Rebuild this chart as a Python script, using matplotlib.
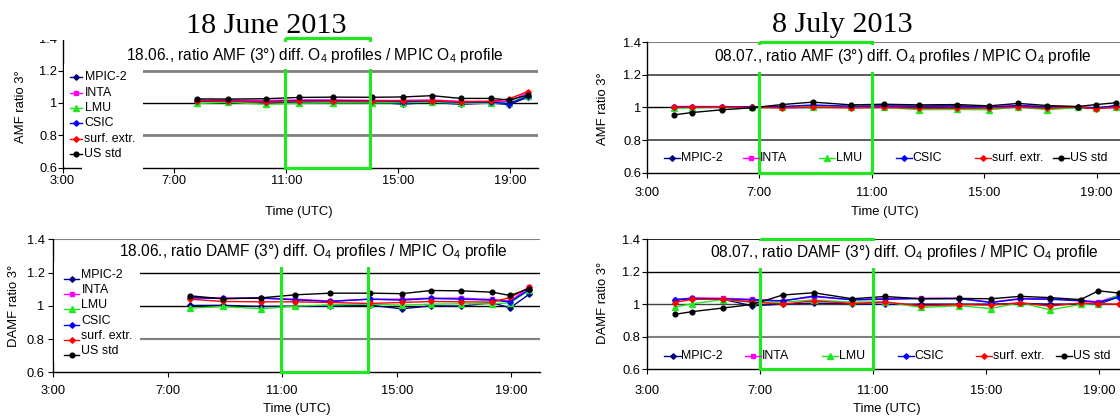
import matplotlib
matplotlib.use("Agg")
import matplotlib.pyplot as plt
from matplotlib.lines import Line2D
from matplotlib.patches import Rectangle

W, H = 1120, 420

plt.rcParams["font.family"] = ["Liberation Sans", "DejaVu Sans"]
plt.rcParams["mathtext.fontset"] = "custom"
plt.rcParams["mathtext.rm"] = "Liberation Sans"
plt.rcParams["mathtext.it"] = "Liberation Sans:italic"
plt.rcParams["mathtext.bf"] = "Liberation Sans:bold"

# ---------------------------------------------------------------- data
series_names = ["MPIC-2", "INTA", "LMU", "CSIC", "surf. extr.", "US std"]
series_colors = ["#000080", "#FF00FF", "#22E622", "#0000FF", "#FF0000", "#000000"]
series_markers = ["D", "s", "^", "D", "D", "o"]
series_msize = [2.8, 3.2, 3.8, 2.8, 2.8, 3.4]

# measurement times in decimal hours (UTC)
june_times = [7.80, 8.92, 10.28, 11.45, 12.68, 14.05, 15.17, 16.21, 17.24, 18.33, 18.96, 19.63]
july_times = [3.98, 4.60, 5.68, 6.73, 7.80, 8.90, 10.27, 11.42, 12.68, 14.04, 15.17, 16.21,
              17.25, 18.34, 18.97, 19.70]

# rows follow series_names
june_amf = [
    [1.010, 1.010, 1.005, 1.005, 1.008, 1.005, 0.993, 1.003, 0.992, 1.000, 0.990, 1.035],
    [1.018, 1.017, 1.015, 1.018, 1.018, 1.016, 1.015, 1.018, 1.010, 1.010, 1.010, 1.062],
    [0.997, 1.003, 0.992, 0.998, 1.000, 1.000, 1.002, 1.005, 0.998, 0.998, 1.000, 1.045],
    [1.012, 1.012, 1.008, 1.015, 1.015, 1.012, 1.008, 1.012, 1.003, 1.005, 0.995, 1.040],
    [1.014, 1.010, 1.006, 1.010, 1.010, 1.010, 1.015, 1.015, 1.006, 1.010, 1.025, 1.070],
    [1.025, 1.024, 1.026, 1.034, 1.036, 1.035, 1.037, 1.045, 1.028, 1.028, 1.018, 1.048],
]
june_damf = [
    [1.002, 1.003, 0.996, 0.998, 0.998, 1.004, 0.982, 1.000, 0.998, 1.018, 0.988, 1.070],
    [1.050, 1.046, 1.047, 1.040, 1.028, 1.040, 1.040, 1.046, 1.046, 1.038, 1.028, 1.112],
    [0.986, 0.996, 0.982, 0.998, 1.006, 1.010, 1.004, 1.010, 1.012, 1.012, 1.018, 1.094],
    [1.048, 1.044, 1.046, 1.036, 1.026, 1.040, 1.034, 1.044, 1.040, 1.034, 1.024, 1.098],
    [1.040, 1.026, 1.024, 1.024, 1.020, 1.014, 1.020, 1.026, 1.024, 1.022, 1.050, 1.112],
    [1.060, 1.042, 1.048, 1.066, 1.076, 1.076, 1.073, 1.092, 1.090, 1.082, 1.062, 1.104],
]
july_amf = [
    [1.003, 1.003, 1.003, 1.002, 1.000, 1.000, 1.003, 1.005, 1.006, 1.008, 1.000, 1.008, 1.003, 1.000, 0.995, 1.012],
    [1.006, 1.006, 1.006, 1.002, 1.003, 1.008, 1.005, 1.008, 1.006, 1.006, 1.002, 1.012, 1.004, 1.002, 0.998, 1.000],
    [0.995, 0.998, 1.002, 1.000, 1.000, 1.005, 1.000, 1.000, 0.987, 0.988, 0.986, 1.003, 0.986, 1.000, 0.998, 1.004],
    [1.005, 1.005, 1.005, 1.004, 1.006, 1.015, 1.008, 1.010, 1.008, 1.010, 1.003, 1.012, 1.004, 1.002, 0.998, 1.010],
    [1.002, 1.003, 1.004, 1.000, 0.998, 1.002, 0.997, 1.000, 0.995, 0.995, 0.996, 1.002, 0.995, 1.003, 0.992, 1.002],
    [0.955, 0.969, 0.986, 0.998, 1.018, 1.033, 1.016, 1.020, 1.016, 1.018, 1.010, 1.025, 1.012, 1.006, 1.018, 1.029],
]
july_damf = [
    [1.025, 1.033, 1.030, 0.990, 1.000, 1.006, 1.003, 0.998, 1.000, 1.000, 1.000, 1.005, 1.000, 1.000, 1.000, 1.045],
    [1.028, 1.038, 1.036, 1.030, 1.020, 1.045, 1.028, 1.035, 1.036, 1.036, 1.012, 1.035, 1.032, 1.024, 1.014, 1.055],
    [0.982, 1.002, 1.028, 1.012, 1.012, 1.026, 1.012, 1.014, 0.980, 0.990, 0.973, 1.010, 0.965, 0.998, 1.003, 1.058],
    [1.027, 1.035, 1.033, 1.025, 1.020, 1.050, 1.026, 1.030, 1.034, 1.034, 1.010, 1.032, 1.030, 1.020, 1.010, 1.045],
    [1.010, 1.030, 1.030, 1.013, 1.000, 1.020, 1.004, 1.013, 0.990, 0.997, 0.994, 1.008, 0.988, 1.007, 1.003, 1.000],
    [0.937, 0.954, 0.976, 0.998, 1.056, 1.070, 1.033, 1.047, 1.033, 1.035, 1.033, 1.048, 1.040, 1.028, 1.082, 1.068],
]

time_ticks = [3, 7, 11, 15, 19]
time_tick_labels = ["3:00", "7:00", "11:00", "15:00", "19:00"]
ratio_ticks = [0.6, 0.8, 1.0, 1.2, 1.4]
ratio_tick_labels = ["0.6", "0.8", "1", "1.2", "1.4"]

# highlighted time window of each day (hours UTC)
june_window = (10.95, 14.0)
july_window = (7.0, 11.0)

day_titles = ["18 June 2013", "8 July 2013"]
HIGHLIGHT = "#22E622"

# ---------------------------------------------------------------- helpers
fig = plt.figure(figsize=(W / 100, H / 100), dpi=100)
fig.patch.set_facecolor("white")


def fxy(x, y):
    return x / W, 1 - y / H


def axes_px(x0, x1, ytop, ybot):
    return fig.add_axes([x0 / W, 1 - ybot / H, (x1 - x0) / W, (ybot - ytop) / H])


def white_px(x0, y0, x1, y1, z=10):
    fig.add_artist(Rectangle((x0 / W, 1 - y1 / H), (x1 - x0) / W, (y1 - y0) / H,
                             transform=fig.transFigure, facecolor="white",
                             edgecolor="none", zorder=z))


def legend_item(i, lx0, lx1, mx, my, tx, ty):
    fig.add_artist(Line2D([lx0 / W, lx1 / W], [1 - my / H] * 2, color=series_colors[i],
                          lw=1.0, transform=fig.transFigure, zorder=14))
    fig.add_artist(Line2D([mx / W], [1 - my / H], color=series_colors[i], ls="none",
                          marker=series_markers[i], ms=series_msize[i],
                          transform=fig.transFigure, zorder=14))
    fig.text(tx / W, 1 - ty / H, series_names[i], fontsize=8.9, ha="left", va="center",
             zorder=15)


panels = [
    dict(times=june_times, values=june_amf, box=(62.5, 538.0, 38.2, 167.7),
         title="18.06., ratio AMF (3°) diff. O$_4$ profiles / MPIC O$_4$ profile",
         title_xy=(315, 60), title_bg=(118, 41.5, 512, 69),
         window=june_window, top_edge=True,
         grid={1.4: ("#808080", 1.5), 1.2: ("#808080", 2.0), 1.0: ("#000000", 1.0), 0.8: ("#808080", 2.0)},
         xpad=1.9, ypad=0.4,
         ylabel="AMF ratio 3°", ylabel_xy=(21.4, 106.7), xlabel_xy=(299, 212),
         legend="column"),
    dict(times=june_times, values=june_damf, box=(52.9, 540.0, 239.3, 372.3),
         title="18.06., ratio DAMF (3°) diff. O$_4$ profiles / MPIC O$_4$ profile",
         title_xy=(313, 256), title_bg=(110, 241, 515, 267),
         window=june_window, top_edge=False,
         grid={1.4: ("#808080", 1.5), 1.2: ("#000000", 1.0), 1.0: ("#000000", 1.0), 0.8: ("#808080", 1.6)},
         xpad=5.3, ypad=2.3,
         ylabel="DAMF ratio 3°", ylabel_xy=(14.3, 305.8), xlabel_xy=(296.4, 409.3),
         legend="column2"),
    dict(times=july_times, values=july_amf, box=(646.8, 1124.8, 42.3, 172.7),
         title="08.07., ratio AMF (3°) diff. O$_4$ profiles / MPIC O$_4$ profile",
         title_xy=(902.8, 61.5), title_bg=(700, 44.5, 1105, 72),
         window=july_window, top_edge=True,
         grid={1.4: ("#808080", 1.5), 1.2: ("#404040", 1.2), 1.0: ("#000000", 1.0), 0.8: ("#404040", 1.2)},
         xpad=6.7, ypad=0.4,
         ylabel="AMF ratio 3°", ylabel_xy=(602.9, 108.3), xlabel_xy=(885, 212),
         legend="row", legend_x=[671.8, 751.0, 827.0, 903.6, 983.2, 1061.0], legend_y=157.7),
    dict(times=july_times, values=july_damf, box=(646.8, 1127.6, 239.0, 369.3),
         title="08.07., ratio DAMF (3°) diff. O$_4$ profiles / MPIC O$_4$ profile",
         title_xy=(903.8, 257.3), title_bg=(700, 241, 1108, 268),
         window=july_window, top_edge=True,
         grid={1.4: ("#000000", 1.2), 1.2: ("#000000", 1.0), 1.0: ("#404040", 1.0), 0.8: ("#808080", 1.5)},
         xpad=7.5, ypad=1.0,
         ylabel="DAMF ratio 3°", ylabel_xy=(602.9, 303.3), xlabel_xy=(887, 409.3),
         legend="row", legend_x=[672.5, 752.9, 829.6, 905.7, 984.3, 1064.3], legend_y=355.7),
]

# ---------------------------------------------------------------- drawing
for p in panels:
    ax = axes_px(*p["box"])
    ax.set_xlim(3, 20)
    ax.set_ylim(0.6, 1.4)
    ax.patch.set_alpha(0)
    for side in ("top", "right"):
        ax.spines[side].set_visible(False)
    for side in ("left", "bottom"):
        ax.spines[side].set_color("black")
        ax.spines[side].set_linewidth(1.0)

    for level, (gc, glw) in p["grid"].items():
        ax.axhline(level, color=gc, lw=glw, zorder=1)

    for i, vals in enumerate(p["values"]):
        ax.plot(p["times"], vals, color=series_colors[i], lw=1.0,
                marker=series_markers[i], ms=series_msize[i], zorder=3 + i * 0.1)

    ax.set_xticks(time_ticks)
    ax.set_xticklabels(time_tick_labels)
    ax.set_yticks(ratio_ticks)
    ax.set_yticklabels(ratio_tick_labels)
    ax.tick_params(axis="both", direction="out", length=3.6, width=0.8, labelsize=9.3)
    ax.tick_params(axis="x", pad=p["xpad"])
    ax.tick_params(axis="y", pad=p["ypad"])

    # highlighted window (open-topped where the heading strip hides the upper edge)
    x0, x1 = p["window"]
    if p["top_edge"]:
        gx, gy = [x0, x0, x1, x1, x0], [1.4, 0.6, 0.6, 1.4, 1.4]
    else:
        gx, gy = [x0, x0, x1, x1], [1.37, 0.6, 0.6, 1.37]
    fig.add_artist(Line2D(gx, gy, transform=ax.transData, color=HIGHLIGHT, lw=2.3,
                          solid_joinstyle="miter", solid_capstyle="butt", zorder=11))

    # panel heading on a white strip
    white_px(*p["title_bg"], z=12)
    fig.text(*fxy(*p["title_xy"]), p["title"], fontsize=11.2, ha="center",
             va="baseline", zorder=13)

    fig.text(*fxy(*p["ylabel_xy"]), p["ylabel"], fontsize=9.4, rotation=90,
             ha="center", va="center")
    fig.text(*fxy(*p["xlabel_xy"]), "Time (UTC)", fontsize=9.4, ha="center", va="center")

    if p["legend"] == "column":
        white_px(63.5, 64, 143, 165.8, z=10)
        white_px(82, 165.8, 143, 171, z=10)
        rows = [77.3, 92.7, 108.3, 122.7, 139.0, 154.0]
        for i, ry in enumerate(rows):
            legend_item(i, 69.5, 82.0, 76.0, ry, 84.5, ry)
    elif p["legend"] == "column2":
        white_px(54, 262, 140, 362, z=10)
        rows = [275, 290, 305, 321, 336, 351]
        for i, ry in enumerate(rows):
            legend_item(i, 64.3, 78.6, 71.5, ry + 4, 81.4, ry)
    else:
        for i, mx in enumerate(p["legend_x"]):
            legend_item(i, mx - 8, mx + 8, mx, p["legend_y"], mx + 9, p["legend_y"])

# day headings; the June heading sits on a white strip over the top of its panel
white_px(0, 0, 558, 39.5, z=10)
fig.text(*fxy(266, 33.3), day_titles[0], family=["Liberation Serif", "DejaVu Serif"],
         fontsize=21.7, ha="center", va="baseline", zorder=13)
fig.text(*fxy(842, 32.5), day_titles[1], family=["Liberation Serif", "DejaVu Serif"],
         fontsize=21.7, ha="center", va="baseline", zorder=13)

fig.savefig("out.png", dpi=100, facecolor="white")
